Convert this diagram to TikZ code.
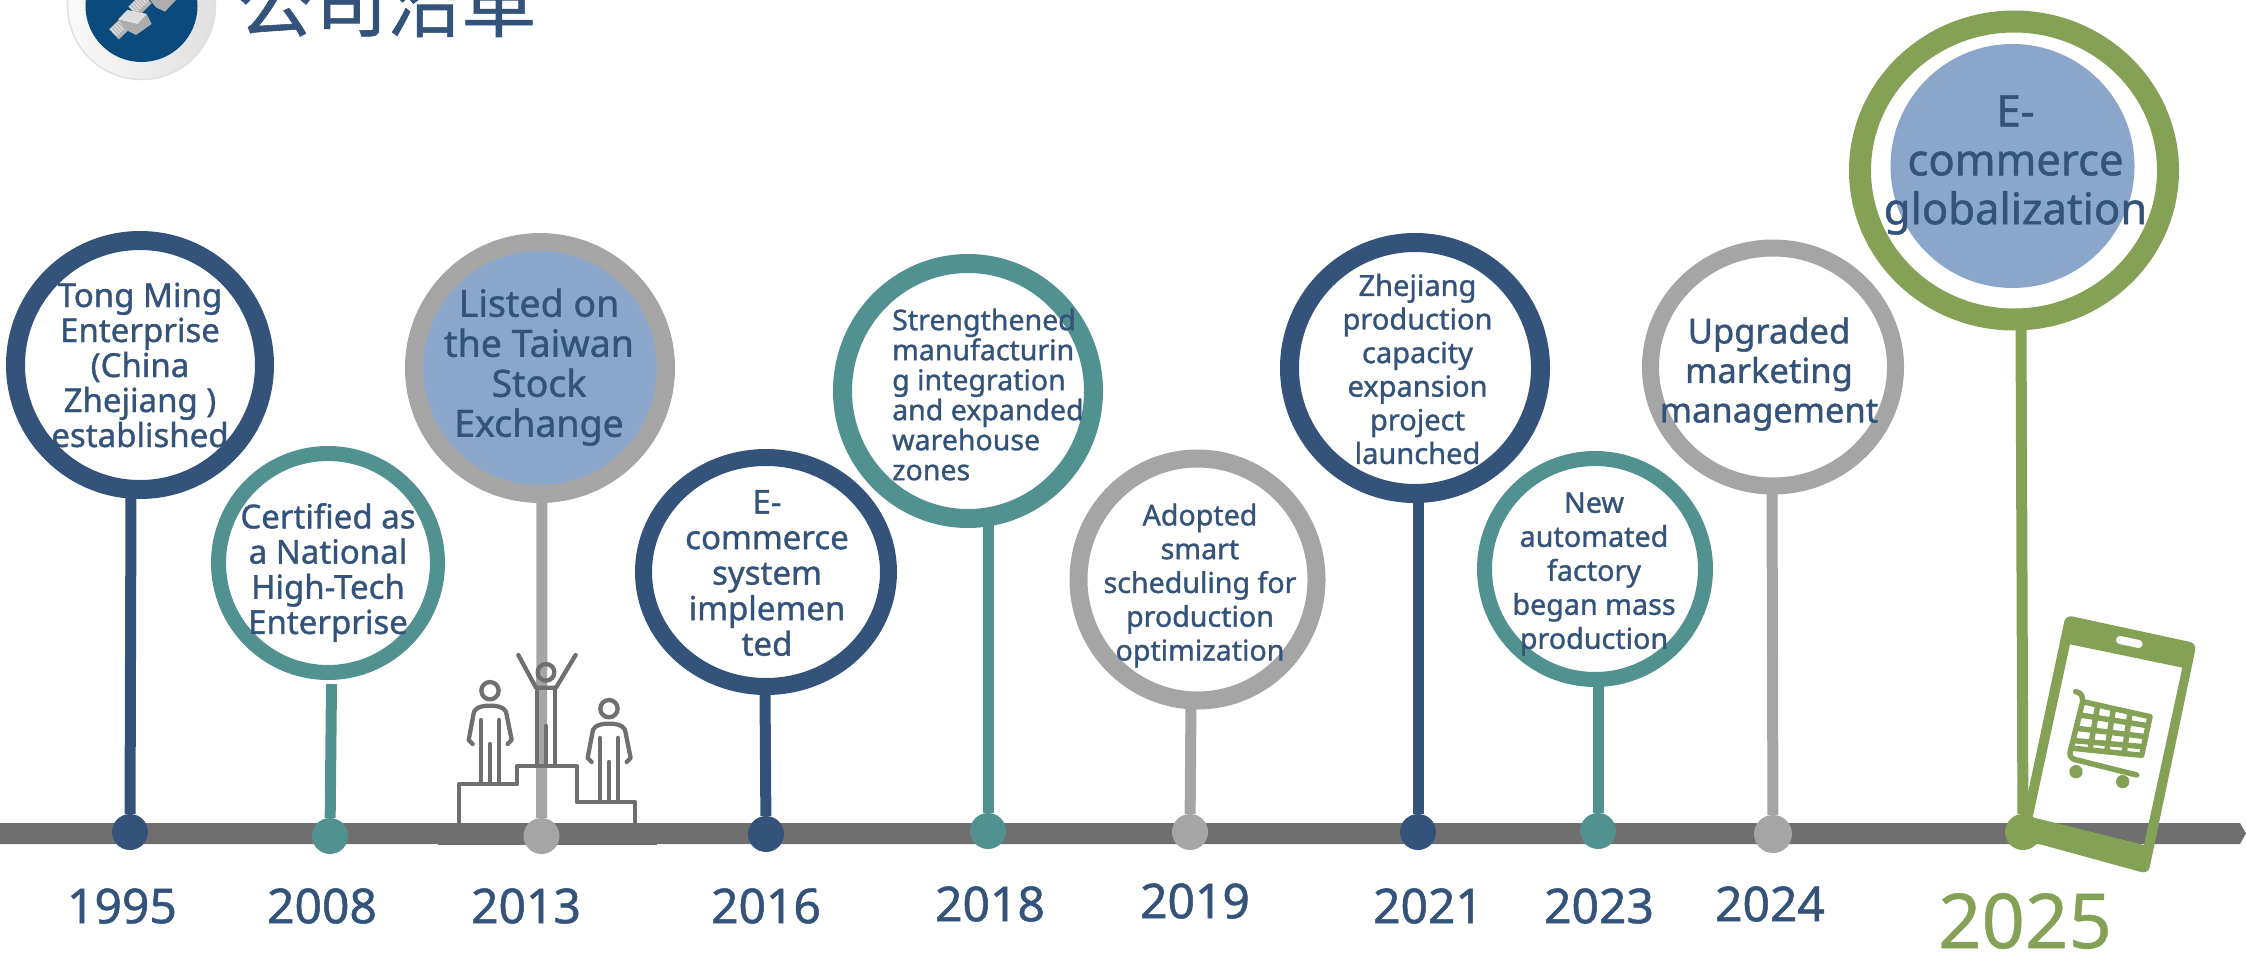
\documentclass[tikz,border=0pt]{standalone}
\usepackage{fontspec}
\usetikzlibrary{shapes.geometric}
\setmainfont{Noto Sans}
\newfontfamily\cjkt{Noto Sans CJK TC}[FakeBold=0.8]
\newfontfamily\labf{Noto Sans}[FakeBold=1.1]
\newfontfamily\yearf{Noto Sans}[FakeBold=0.5]
\definecolor{navy}{HTML}{34537A}
\definecolor{teal2}{HTML}{51918F}
\definecolor{gray2}{HTML}{A5A5A5}
\definecolor{bar}{HTML}{6F6F6F}
\definecolor{green2}{HTML}{85A156}
\definecolor{blue2}{HTML}{8AA6CB}
\definecolor{logob}{HTML}{0B4A7C}
\newcommand{\fs}[2]{\labf\fontsize{#1}{#2}\selectfont}
\tikzset{
  ring/.style={draw,ellipse,inner sep=0pt,fill=white},
  dotn/.style={circle,inner sep=0pt,minimum size=36pt},
  lab/.style={text=navy,align=center,inner sep=0pt},
  yr/.style={text=navy,inner sep=0pt,font=\fs{48}{48}},
  stem/.style={line width=11pt},
  ico/.style={draw=bar,line width=4.3pt,line cap=round,line join=round},
  cart/.style={draw=green2,line width=5.5pt,line cap=round,line join=round},
}
\begin{document}
\begin{tikzpicture}[x=1pt,y=-1pt]
\useasboundingbox (0,0) rectangle (2246,953);
% logo
\node[circle,inner sep=0pt,minimum size=148pt,draw=black!12,line width=1.5pt,left color=white!98!black,right color=black!12] (logoouter) at (141.5,5.5) {};
\node[circle,inner sep=0pt,minimum size=112pt,fill=logob] (logoinner) at (141.5,6) {};
\begin{scope}[shift={(50,0)},x=.3333pt,y=-.3333pt]
  \draw[line width=14pt,color=black!30] (192,103) -- (235,62);
  \draw[line width=10pt,color=black!15,dash pattern=on 1.6pt off 1.2pt] (190,98) -- (233,58);
  \draw[line width=14pt,color=black!30] (250,35) -- (290,-5);
  \draw[line width=10pt,color=black!15,dash pattern=on 1.6pt off 1.2pt] (247,30) -- (287,-9);
  \fill[black!32] (205,58) -- (232,30) -- (290,42) -- (305,72) -- (258,105) -- (225,88) -- cycle;
  \fill[black!13] (205,58) -- (232,30) -- (290,42) -- (262,72) -- cycle;
  \fill[black!32] (300,0) -- (378,0) -- (345,35) -- (318,22) -- cycle;
\end{scope}
\node[inner sep=0pt,anchor=base west,text=navy,font=\cjkt\fontsize{74.5}{74.5}\selectfont] (title) at (238,31) {公司沿革};
% axis
\fill[bar] (0,823) -- (2240,823) -- (2246,833.5) -- (2240,844) -- (0,844) -- cycle;
\fill[bar] (438,823) rectangle (657,845);
% dots
\node[dotn,fill=navy] (d1) at (130,832) {};
\node[dotn,fill=teal2] (d2) at (330,836) {};
\node[dotn,fill=gray2] (d3) at (541.5,836) {};
\node[dotn,fill=navy] (d4) at (766,834) {};
\node[dotn,fill=teal2] (d5) at (988,831) {};
\node[dotn,fill=gray2] (d6) at (1190,832) {};
\node[dotn,fill=navy] (d7) at (1418,832) {};
\node[dotn,fill=teal2] (d8) at (1598,831) {};
\node[dotn,fill=gray2,minimum size=38pt] (d9) at (1773,834) {};
\node[dotn,fill=green2] (d10) at (2023,832) {};
% stem tops
\coordinate (t1) at (131,490);
\coordinate (t2) at (331.5,684);
\coordinate (t3) at (542,495);
\coordinate (t4) at (765,690);
\coordinate (t5) at (988,520);
\coordinate (t6) at (1191,700);
\coordinate (t7) at (1418,495);
\coordinate (t8) at (1598,685);
\coordinate (t9) at (1772,490);
\coordinate (t10) at (2021,325);
\draw[stem,navy] (t1) -- (d1);
\draw[stem,teal2] (t2) -- (d2);
\draw[stem,gray2] (t3) -- (d3);
\draw[stem,navy] (t4) -- (d4);
\draw[stem,teal2] (t5) -- (d5);
\draw[stem,gray2] (t6) -- (d6);
\draw[stem,navy] (t7) -- (d7);
\draw[stem,teal2] (t8) -- (d8);
\draw[stem,gray2] (t9) -- (d9);
\draw[stem,green2] (t10) -- (d10);
% rings
\node[ring,draw=navy,line width=19pt,minimum width=249pt,minimum height=249pt] (c1) at (140,365) {};
\node[ring,draw=teal2,line width=15pt,minimum width=219pt,minimum height=219pt] (c2) at (328,563) {};
\node[ring,draw=gray2,line width=18pt,fill=blue2,minimum width=252pt,minimum height=252pt] (c3) at (540,368) {};
\node[ring,draw=navy,line width=17pt,minimum width=245pt,minimum height=229pt] (c4) at (766,572) {};
\node[ring,draw=teal2,line width=19pt,minimum width=251pt,minimum height=255pt] (c5) at (968,391) {};
\node[ring,draw=gray2,line width=18pt,minimum width=238pt,minimum height=242pt] (c6) at (1197.5,579.5) {};
\node[ring,draw=navy,line width=19pt,minimum width=251pt,minimum height=251pt] (c7) at (1415,368) {};
\node[ring,draw=teal2,line width=15pt,minimum width=221pt,minimum height=221pt] (c8) at (1595,569) {};
\node[ring,draw=gray2,line width=17pt,minimum width=245pt,minimum height=238pt] (c9) at (1773,367) {};
\node[ring,draw=green2,line width=22pt,minimum width=308pt,minimum height=298pt] (c10) at (2014,170.5) {};
\node[circle,fill=blue2,inner sep=0pt,minimum width=244pt] (c10in) at (2012.5,166) {};
% podium icon
\begin{scope}[shift={(430,640)},x=.3333pt,y=-.3333pt]
  \draw[ico] (88,548) -- (88,432) -- (262,432) -- (262,378) -- (440,378) -- (440,486) -- (615,486) -- (615,548);
  \draw[ico] (348,97) circle[radius=25];
  \draw[ico] (265,45) -- (318,143) -- (378,143) -- (437,45);
  \draw[ico] (322,143) -- (322,375) (375,143) -- (375,375) (348,258) -- (348,375);
  \foreach \dx/\dy in {0/0,357/54}{
    \begin{scope}[shift={(\dx,\dy)}]
    \draw[ico] (180,152) circle[radius=26];
    \draw[ico] (128,312) -- (116,300) -- (132,215) .. controls (140,200) and (160,197) .. (180,197) .. controls (200,197) and (220,200) .. (228,215) -- (245,300) -- (233,312);
    \draw[ico] (153,240) -- (153,428) (207,240) -- (207,428) (180,312) -- (180,428);
    \end{scope}
  }
\end{scope}
% phone
\begin{scope}[shift={(1900,580)},x=.3333pt,y=-.3333pt]
  \fill[green2,even odd rule]
    [rounded corners=7pt] (497,105) -- (890,190) -- (745,882) -- (355,775) -- cycle
    [rounded corners=0pt] (510,193) -- (847,263) -- (732,795) -- (398,712) -- cycle;
  \draw[white,line width=8pt,line cap=round] (660,180) -- (716,192);
  \draw[cart] (527,335) .. controls (545,338) and (548,350) .. (548,365) -- (750,410) -- (725,526) -- (520,505);
  \draw[cart] (548,365) -- (510,518) .. controls (508,532) and (520,538) .. (530,540) -- (710,585);
  \draw[cart] (540,405) -- (743,437) (531,445) -- (737,470) (523,482) -- (730,500);
  \draw[cart] (593,377) -- (570,510) (640,388) -- (620,515) (690,398) -- (672,522);
  \fill[green2] (528,575) circle[radius=20] (668,605) circle[radius=20];
\end{scope}
% labels
\node[lab,font=\fs{33}{35}] (l1) at (140,365) {Tong Ming\\Enterprise\\(China\\Zhejiang )\\established};
\node[lab,font=\fs{33}{35.2}] (l2) at (328,572.5) {Certified as\\a National\\High-Tech\\Enterprise};
\node[lab,font=\fs{37.5}{40}] (l3) at (539,367) {Listed on\\the Taiwan\\Stock\\Exchange};
\node[lab,font=\fs{33}{35.5}] (l4) at (767,573) {E-\\commerce\\system\\implemen\\ted};
\node[lab,align=left,anchor=west,font=\fs{28.5}{30}] (l5) at (892,394.5) {Strengthened\\manufacturin\\g integration\\and expanded\\warehouse\\zones};
\node[lab,font=\fs{28.6}{33.8}] (l6) at (1200,585.5) {Adopted\\smart\\scheduling for\\production\\optimization};
\node[lab,font=\fs{29}{33.6}] (l7) at (1417.5,369) {Zhejiang\\production\\capacity\\expansion\\project\\launched};
\node[lab,font=\fs{28.7}{34}] (l8) at (1594,574) {New\\automated\\factory\\began mass\\production};
\node[lab,font=\fs{34.5}{39.5}] (l9) at (1769,374) {Upgraded\\marketing\\management};
\node[lab,font=\fs{43.6}{48.9}] (l10) at (2015.5,165) {E-\\commerce\\globalization};
% years
\node[yr] (y1) at (122,906) {1995};
\node[yr] (y2) at (322,906) {2008};
\node[yr] (y3) at (526,906) {2013};
\node[yr] (y4) at (766,906) {2016};
\node[yr] (y5) at (990,904) {2018};
\node[yr] (y6) at (1195,901) {2019};
\node[yr] (y7) at (1428,906) {2021};
\node[yr] (y8) at (1599,906) {2023};
\node[yr] (y9) at (1770,904) {2024};
\node[inner sep=0pt,text=green2,font=\yearf\fontsize{76}{76}\selectfont] (y10) at (2025,921) {2025};
\end{tikzpicture}
\end{document}
